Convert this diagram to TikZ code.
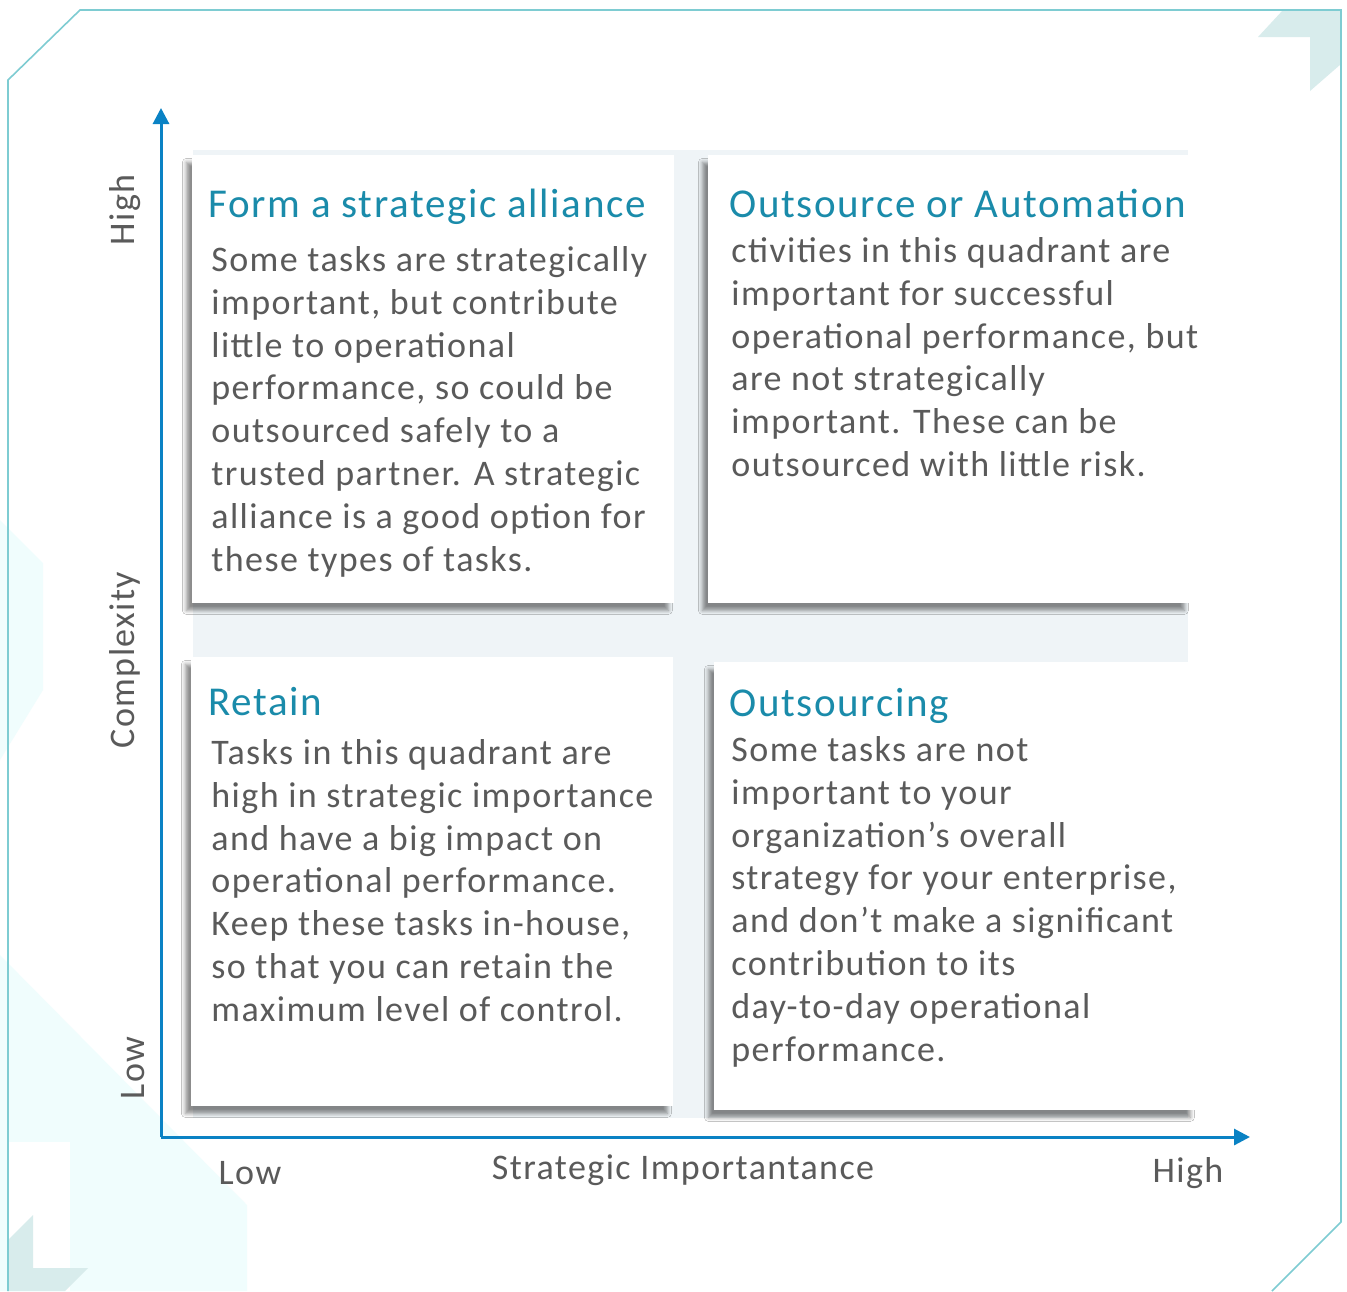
\documentclass[tikz,border=0pt]{standalone}
\usepackage{fontspec}
\setmainfont[LetterSpace=4]{Carlito}
\usepackage{xcolor}
\usetikzlibrary{arrows.meta,positioning,shadows.blur}
\definecolor{axisblue}{HTML}{0A82C4}
\definecolor{titleteal}{HTML}{1A8BAA}
\definecolor{bodygrey}{HTML}{5A5A5A}
\definecolor{framecyan}{HTML}{7ECCD2}
\definecolor{chevron}{HTML}{D8ECEC}
\definecolor{paleaqua}{HTML}{F0FDFD}
\definecolor{gridbg}{HTML}{EFF4F7}

\begin{document}
\begin{tikzpicture}[
  x=0.5pt,y=-0.5pt,
  card/.style={fill=white,anchor=north west,inner sep=0pt,
               minimum width=241pt,minimum height=224pt,
               blur shadow={shadow xshift=-3pt,shadow yshift=-3.5pt,
                            shadow blur steps=6,shadow blur radius=2pt,
                            shadow opacity=45}},
  ttl/.style={inner sep=0pt,align=left,text=titleteal,
              font=\fontsize{20.5}{24}\selectfont},
  body/.style={inner sep=0pt,align=left,text=bodygrey,
               font=\fontsize{18}{21.4}\selectfont},
  axlabel/.style={inner sep=0pt,text=bodygrey,font=\fontsize{18}{21}\selectfont},
  axis/.style={draw=axisblue,line width=1.5pt,-{Triangle[length=8pt,width=8pt]}}
]
\useasboundingbox (0,0) rectangle (1347,1291);
\fill[white] (0,0) rectangle (1347,1291);

% pale background shapes and corner marks
\fill[paleaqua] (0,520) -- (43,563) -- (43,690) -- (0,760) -- cycle;
\fill[paleaqua] (0,955) -- (247,1205) -- (247,1291) -- (0,1291) -- cycle;
\fill[white] (8,1142) rectangle (70,1291);
\fill[chevron] (1283,10) -- (1341,10) -- (1341,64) -- (1310,91) -- (1310,37)
  -- (1258,37) -- cycle;
\fill[chevron] (33,1215) -- (33,1268) -- (88,1268) -- (65,1291) -- (8,1291)
  -- (8,1240) -- cycle;
\draw[framecyan,line width=0.8pt] (8,1291) -- (8,80) -- (80,10) -- (1341,10)
  -- (1341,1222) -- (1272,1291);

\fill[gridbg] (193,150) rectangle (1188,1118);

\node[card] (tl) at (192,155) {};
\node[card] (tr) at (708,155) {};
\node[card,minimum height=224.5pt] (bl) at (191,657) {};
\node[card] (br) at (714,662) {};

\node[ttl,below right=17pt and 8pt of tl.north west] (tlt)
  {Form a strategic alliance};
\node[body,below right=45.5pt and 9.5pt of tl.north west] (tlb)
  {Some tasks are strategically\\important, but contribute\\little to operational\\
   performance, so could be\\outsourced safely to a\\trusted partner. A strategic\\
   alliance is a good option for\\these types of tasks.};

\node[ttl,below right=17pt and 10.5pt of tr.north west] (trt)
  {Outsource or Automation};
\node[body,below right=41pt and 11.5pt of tr.north west] (trb)
  {ctivities in this quadrant are\\important for successful\\
   operational performance, but\\are not strategically\\
   important. These can be\\outsourced with little risk.};

\node[ttl,below right=15pt and 8.5pt of bl.north west] (blt) {Retain};
\node[body,below right=41pt and 10pt of bl.north west] (blb)
  {Tasks in this quadrant are\\high in strategic importance\\and have a big impact on\\
   operational performance.\\Keep these tasks in-house,\\so that you can retain the\\
   maximum level of control.};

\node[ttl,below right=13pt and 7.5pt of br.north west] (brt) {Outsourcing};
\node[body,below right=37pt and 8.5pt of br.north west] (brb)
  {Some tasks are not\\important to your\\organization's overall\\
   strategy for your enterprise,\\and don't make a significant\\contribution to its\\
   day-to-day operational\\performance.};

\coordinate (origin) at (161,1137);
\coordinate (ytip) at (161,108);
\coordinate (xtip) at (1250,1137);
\draw[axis] (origin) -- (ytip);
\draw[axis] (origin) -- (xtip);

\node[axlabel,rotate=90] (yhigh) at (125,210) {High};
\node[axlabel,rotate=90] (ylabel) at (125,660) {Complexity};
\node[axlabel,rotate=90] (ylow) at (133,1068) {Low};
\node[axlabel] (xlow) at (250,1173) {Low};
\node[axlabel] (xlabel) at (683,1170) {Strategic Importantance};
\node[axlabel] (xhigh) at (1188,1173) {High};
\end{tikzpicture}
\end{document}
